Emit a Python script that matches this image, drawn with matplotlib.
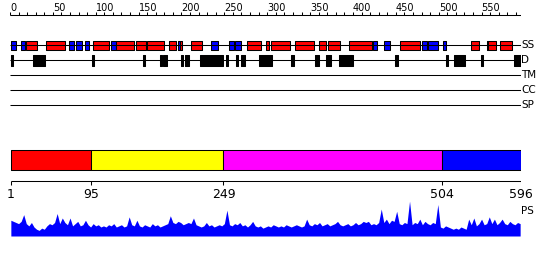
import numpy as np
import matplotlib
matplotlib.use("Agg")
import matplotlib.pyplot as plt

seq_len = 596

# secondary structure (start, end) residues
helix = [(19, 31), (42, 64), (97, 115), (124, 145), (147, 159), (160, 180),
         (185, 194), (198, 201), (211, 224), (277, 293), (299, 302), (304, 326),
         (332, 354), (360, 368), (371, 385), (395, 422), (455, 478), (538, 547),
         (558, 567), (571, 586)]
strand = [(1, 7), (13, 17), (69, 75), (77, 84), (87, 92), (118, 124), (196, 198),
          (235, 243), (255, 261), (263, 270), (423, 428), (436, 443), (480, 486),
          (488, 499), (505, 509), (556, 558)]

# disordered regions
disorder = [(1, 3), (27, 41), (96, 97), (155, 157), (175, 177), (178, 183),
            (200, 201), (204, 209), (222, 249), (252, 254), (264, 266), (269, 274),
            (291, 305), (328, 331), (356, 357), (358, 360), (369, 374), (384, 400),
            (449, 452), (509, 511), (518, 531), (549, 552), (588, 596)]

# domains
dom_bounds = [1, 95, 249, 504, 596]
dom_colors = ["#ff0000", "#ffff00", "#ff00ff", "#0000ff"]

track_names = ["SS", "D", "TM", "CC", "SP"]

# PS profile, one value every 3 residues
ps_score = [
    14, 13, 12, 11, 13, 19, 11, 9, 12, 8, 6, 5, 7, 6, 9, 11, 10, 12, 20, 11,
    16, 12, 10, 16, 9, 11, 13, 9, 10, 14, 10, 8, 11, 9, 10, 8, 9, 8, 10, 9,
    11, 8, 9, 10, 8, 9, 17, 10, 9, 14, 9, 8, 10, 9, 8, 11, 9, 10, 8, 9,
    10, 11, 18, 12, 11, 13, 12, 10, 11, 12, 11, 16, 10, 9, 8, 9, 12, 9, 10, 8,
    9, 10, 9, 11, 23, 10, 9, 11, 10, 12, 9, 10, 8, 10, 13, 9, 8, 9, 7, 8,
    9, 8, 10, 9, 8, 9, 8, 10, 9, 8, 9, 10, 9, 8, 9, 15, 10, 9, 11, 10,
    12, 9, 10, 11, 9, 10, 11, 13, 10, 9, 10, 11, 9, 10, 12, 10, 11, 13, 12, 13,
    10, 11, 10, 12, 24, 12, 15, 11, 14, 13, 22, 11, 10, 12, 11, 31, 10, 12, 11, 15,
    10, 13, 11, 10, 12, 11, 28, 8, 7, 9, 8, 7, 6, 7, 6, 8, 7, 6, 15, 10,
    16, 9, 11, 15, 10, 11, 17, 11, 15, 10, 12, 15, 11, 10, 13, 11, 10, 12, 11]
ps_pos = np.arange(1, seq_len + 1, 3)

fig = plt.figure(figsize=(5.5, 2.6), dpi=100)
ax = fig.add_axes([10 / 550, 0, 511 / 550, 1])
ax.set_xlim(0, seq_len)
ax.set_ylim(260, 0)
ax.axis("off")
lw = 0.75

# top ruler
ax.hlines(15, 0, seq_len, color="black", lw=lw)
ax.vlines(np.arange(0, seq_len, 10), 12, 15, color="black", lw=lw)
for t in range(0, seq_len, 50):
    ax.text(t, 8, str(t), fontsize=7, ha="left", va="center")

# tracks
track_y = [45, 60, 75, 90, 105]
for y, name in zip(track_y, track_names):
    ax.hlines(y, 0, seq_len, color="black", lw=lw)
    ax.text(seq_len + 0.5, y, name, fontsize=7.5, ha="left", va="center")

ss = sorted([(s, e, "#ff0000") for s, e in helix] + [(s, e, "#0000ff") for s, e in strand])
ax.broken_barh([(s, e - s) for s, e, c in ss], (40.5, 9),
               facecolors=[c for s, e, c in ss], edgecolors="black", lw=lw)
ax.broken_barh([(s, max(e - s, 1.5)) for s, e in disorder], (55, 11),
               facecolors="black", edgecolors="black", lw=lw)

# domain bar
ax.broken_barh([(a, b - a) for a, b in zip(dom_bounds[:-1], dom_bounds[1:])], (150, 20),
               facecolors=dom_colors, edgecolors="black", lw=lw)

# bottom ruler
ax.hlines(181, dom_bounds[0], dom_bounds[-1], color="black", lw=lw)
ax.vlines(dom_bounds, 181, 185, color="black", lw=lw)
for t in dom_bounds:
    ax.text(t, 195, str(t), fontsize=9, ha="center", va="center")
ax.text(seq_len + 0.5, 211, "PS", fontsize=7.5, ha="left", va="center")

# PS profile
ax2 = fig.add_axes([10 / 550, (260 - 236) / 260, 511 / 550, 36 / 260])
ax2.fill_between(ps_pos, 0, ps_score, color="#0000ff", lw=0)
ax2.set_xlim(0, seq_len)
ax2.set_ylim(0, 32)
ax2.axis("off")

fig.savefig("out.png", dpi=100)
